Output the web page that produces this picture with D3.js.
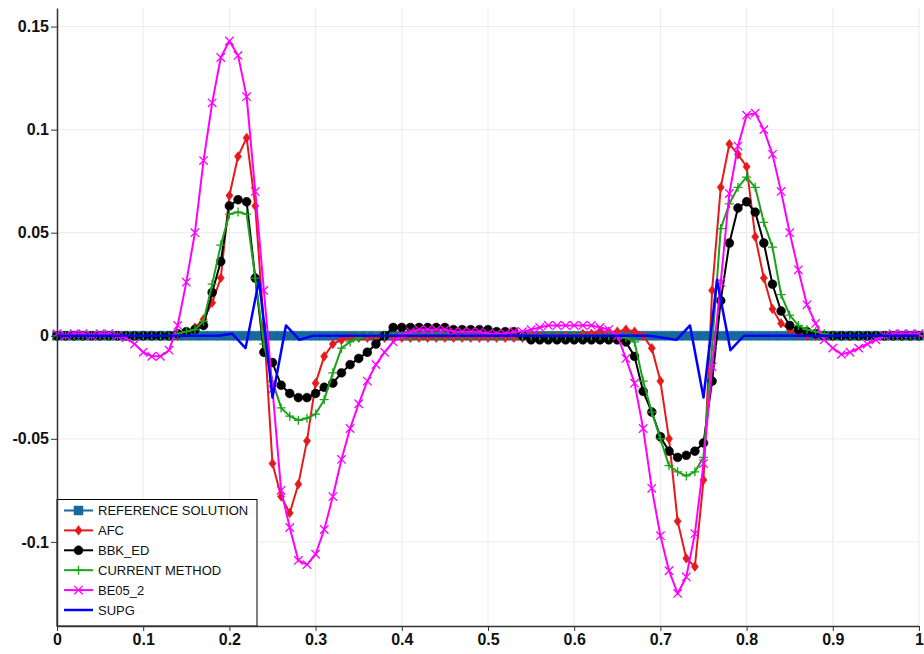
<!DOCTYPE html>
<html>
<head>
<meta charset="utf-8">
<script src="https://cdn.jsdelivr.net/npm/d3@7"></script>
<style>
  body { margin: 0; background: #fff; }
  svg { display: block; }
  .axis .tick text { font-family: "Liberation Sans", Arial, sans-serif; font-weight: bold; font-size: 16px; fill: #111; }
  .legend text { font-family: "Liberation Sans", Arial, sans-serif; font-size: 13px; fill: #111; }
</style>
</head>
<body>
<div id="chart"></div>
<script>
// Sample positions shared by the marked series
const xValues = [
  0.00, 0.01, 0.02, 0.03, 0.04, 0.05, 0.06, 0.07, 0.08, 0.09,
  0.10, 0.11, 0.12, 0.13, 0.14, 0.15, 0.16, 0.17, 0.18, 0.19,
  0.20, 0.21, 0.22, 0.23, 0.24, 0.25, 0.26, 0.27, 0.28, 0.29,
  0.30, 0.31, 0.32, 0.33, 0.34, 0.35, 0.36, 0.37, 0.38, 0.39,
  0.40, 0.41, 0.42, 0.43, 0.44, 0.45, 0.46, 0.47, 0.48, 0.49,
  0.50, 0.51, 0.52, 0.53, 0.54, 0.55, 0.56, 0.57, 0.58, 0.59,
  0.60, 0.61, 0.62, 0.63, 0.64, 0.65, 0.66, 0.67, 0.68, 0.69,
  0.70, 0.71, 0.72, 0.73, 0.74, 0.75, 0.76, 0.77, 0.78, 0.79,
  0.80, 0.81, 0.82, 0.83, 0.84, 0.85, 0.86, 0.87, 0.88, 0.89,
  0.90, 0.91, 0.92, 0.93, 0.94, 0.95, 0.96, 0.97, 0.98, 0.99,
  1.00
];

const referenceY = [
  0, 0, 0, 0, 0, 0, 0, 0, 0, 0,
  0, 0, 0, 0, 0, 0, 0, 0, 0, 0,
  0, 0, 0, 0, 0, 0, 0, 0, 0, 0,
  0, 0, 0, 0, 0, 0, 0, 0, 0, 0,
  0, 0, 0, 0, 0, 0, 0, 0, 0, 0,
  0, 0, 0, 0, 0, 0, 0, 0, 0, 0,
  0, 0, 0, 0, 0, 0, 0, 0, 0, 0,
  0, 0, 0, 0, 0, 0, 0, 0, 0, 0,
  0, 0, 0, 0, 0, 0, 0, 0, 0, 0,
  0, 0, 0, 0, 0, 0, 0, 0, 0, 0,
  0
];

const afcY = [
  0, 0, 0, 0, 0, 0, 0, 0, 0, 0,
  0, 0, 0, 0, 0, 0.001, 0.004, 0.008, 0.016, 0.028,
  0.068, 0.087, 0.096, 0.063, 0.005, -0.062, -0.078, -0.086, -0.072, -0.051,
  -0.023, -0.010, -0.004, -0.002, -0.001, -0.001, -0.001, -0.001, -0.001, -0.001,
  -0.001, -0.001, -0.001, -0.001, -0.001, -0.001, -0.001, -0.001, -0.001, -0.001,
  -0.001, -0.001, -0.001, -0.001, -0.001, 0, 0, 0, 0, 0,
  0, 0.001, 0.001, 0.002, 0.002, 0.002, 0.003, 0.002, 0, -0.006,
  -0.022, -0.050, -0.090, -0.108, -0.112, -0.070, 0.022, 0.072, 0.093, 0.088,
  0.082, 0.048, 0.028, 0.013, 0.006, 0.003, 0.001, 0, 0, 0,
  0, 0, 0, 0, 0, 0, 0, 0, 0, 0,
  0
];

const bbkY = [
  0, 0, 0, 0, 0, 0, 0, 0, 0, 0,
  0, 0, 0, 0, 0.001, 0.002, 0.003, 0.005, 0.021, 0.036,
  0.063, 0.066, 0.065, 0.028, -0.008, -0.013, -0.024, -0.028, -0.030, -0.030,
  -0.028, -0.025, -0.023, -0.018, -0.014, -0.011, -0.008, -0.004, 0, 0.004,
  0.004, 0.004, 0.004, 0.004, 0.004, 0.004, 0.003, 0.003, 0.003, 0.003,
  0.003, 0.002, 0.002, 0.002, 0, -0.002, -0.002, -0.002, -0.002, -0.002,
  -0.002, -0.002, -0.002, -0.002, -0.002, -0.002, -0.003, -0.010, -0.027, -0.037,
  -0.049, -0.056, -0.059, -0.058, -0.056, -0.052, -0.022, 0.017, 0.045, 0.062,
  0.065, 0.060, 0.045, 0.025, 0.012, 0.005, 0.003, 0.002, 0.001, 0,
  0, 0, 0, 0, 0, 0, 0, 0, 0, 0,
  0
];

const currentY = [
  0, 0, 0, 0, 0, 0, 0, 0, 0, 0,
  0, 0, 0, 0, 0.001, 0.002, 0.003, 0.007, 0.025, 0.044,
  0.059, 0.060, 0.059, 0.028, -0.004, -0.022, -0.035, -0.039, -0.041, -0.040,
  -0.038, -0.031, -0.018, -0.006, -0.003, -0.001, 0, 0, 0, 0,
  0, 0, 0, 0, 0, 0, 0, 0, 0, 0,
  0, 0, 0, 0, 0, 0, 0, 0, 0, 0,
  0, 0, 0, 0, 0, 0, -0.001, -0.003, -0.022, -0.037,
  -0.050, -0.063, -0.066, -0.068, -0.066, -0.059, -0.005, 0.052, 0.064, 0.072,
  0.077, 0.072, 0.055, 0.043, 0.020, 0.010, 0.005, 0.003, 0.002, 0.001,
  0, 0, 0, 0, 0, 0, 0, 0, 0, 0,
  0
];

const be05Y = [
  0.001, 0, 0.001, 0.001, 0, 0.001, 0.001, 0, -0.001, -0.004,
  -0.008, -0.010, -0.010, -0.007, 0.005, 0.026, 0.050, 0.085, 0.113, 0.135,
  0.143, 0.136, 0.116, 0.070, 0.022, -0.026, -0.075, -0.093, -0.109, -0.111,
  -0.106, -0.094, -0.078, -0.060, -0.045, -0.033, -0.022, -0.014, -0.008, -0.003,
  0, 0.002, 0.003, 0.003, 0.003, 0.003, 0.002, 0.002, 0.002, 0.002,
  0.001, 0.001, 0.001, 0.002, 0.002, 0.003, 0.004, 0.005, 0.005, 0.005,
  0.005, 0.005, 0.005, 0.004, 0.003, 0, -0.011, -0.023, -0.045, -0.074,
  -0.097, -0.114, -0.125, -0.117, -0.096, -0.062, -0.015, 0.026, 0.069, 0.092,
  0.107, 0.108, 0.100, 0.088, 0.070, 0.050, 0.032, 0.015, 0.006, -0.002,
  -0.006, -0.009, -0.008, -0.006, -0.004, -0.002, 0, 0.001, 0.001, 0.001,
  0.001
];

// SUPG has its own (coarser) node positions and no markers
const supgX = [0, 0.1875, 0.203125, 0.21875, 0.234375, 0.25, 0.265625, 0.28125, 0.296875,
  0.6875, 0.703125, 0.71875, 0.734375, 0.75, 0.765625, 0.78125, 0.796875, 1];
const supgY = [0, 0, 0.001, -0.006, 0.027, -0.030, 0.005, -0.002, 0,
  0, -0.001, -0.002, 0.005, -0.030, 0.027, -0.007, 0, 0];

const seriesNames = ["REFERENCE SOLUTION", "AFC", "BBK_ED", "CURRENT METHOD", "BE05_2", "SUPG"];

const xTicks = [0, 0.1, 0.2, 0.3, 0.4, 0.5, 0.6, 0.7, 0.8, 0.9, 1];
const xTickLabels = ["0", "0.1", "0.2", "0.3", "0.4", "0.5", "0.6", "0.7", "0.8", "0.9", "1"];
const yTicks = [-0.1, -0.05, 0, 0.05, 0.1, 0.15];
const yTickLabels = ["-0.1", "-0.05", "0", "0.05", "0.1", "0.15"];

const series = [
  { name: seriesNames[0], x: xValues, y: referenceY, color: "#17699c", marker: "square", width: 2 },
  { name: seriesNames[1], x: xValues, y: afcY, color: "#e41a1c", marker: "diamond", width: 2 },
  { name: seriesNames[2], x: xValues, y: bbkY, color: "#000000", marker: "circle", width: 2 },
  { name: seriesNames[3], x: xValues, y: currentY, color: "#1aa31a", marker: "plus", width: 2 },
  { name: seriesNames[4], x: xValues, y: be05Y, color: "#ff00ff", marker: "cross", width: 2 },
  { name: seriesNames[5], x: supgX, y: supgY, color: "#0000ff", marker: null, width: 2.5 }
];

const W = 924, H = 654;
const margin = { left: 57, right: 5, top: 8, bottom: 28 };

const svg = d3.select("#chart").append("svg")
  .attr("width", W)
  .attr("height", H);

const x = d3.scaleLinear().domain([0, 1]).range([margin.left, W - margin.right]);
const y = d3.scaleLinear().domain([-0.1408, 0.159]).range([H - margin.bottom, margin.top]);

// grid
svg.append("g").selectAll("line.vg")
  .data(xTicks.slice(1)).enter().append("line")
  .attr("x1", d => x(d)).attr("x2", d => x(d))
  .attr("y1", y.range()[1]).attr("y2", y.range()[0])
  .attr("stroke", "#ebebeb").attr("stroke-width", 1);
svg.append("g").selectAll("line.hg")
  .data(yTicks).enter().append("line")
  .attr("x1", x.range()[0]).attr("x2", x.range()[1])
  .attr("y1", d => y(d)).attr("y2", d => y(d))
  .attr("stroke", "#ebebeb").attr("stroke-width", 1);

// marker shapes
function markerPath(type) {
  switch (type) {
    case "square": return "M-4.5,-4.5H4.5V4.5H-4.5Z";
    case "diamond": return "M0,-4.8L3.6,0L0,4.8L-3.6,0Z";
    case "circle": return d3.symbol().type(d3.symbolCircle).size(62)();
    case "plus": return "M-4.5,0H4.5M0,-4.5V4.5";
    case "cross": return "M-4.2,-4.2L4.2,4.2M-4.2,4.2L4.2,-4.2";
  }
  return "";
}
const filled = { square: true, diamond: true, circle: true, plus: false, cross: false };

const line = d3.line().x(d => x(d[0])).y(d => y(d[1]));

series.forEach(s => {
  const pts = s.x.map((v, i) => [v, s.y[i]]);
  const g = svg.append("g");
  g.append("path")
    .datum(pts)
    .attr("d", line)
    .attr("fill", "none")
    .attr("stroke", s.color)
    .attr("stroke-width", s.width)
    .attr("stroke-linejoin", "round");
  if (s.marker) {
    g.selectAll("path.m")
      .data(pts).enter().append("path")
      .attr("class", "m")
      .attr("transform", d => `translate(${x(d[0])},${y(d[1])})`)
      .attr("d", markerPath(s.marker))
      .attr("fill", filled[s.marker] ? s.color : "none")
      .attr("stroke", s.color)
      .attr("stroke-width", filled[s.marker] ? 0.5 : 1.3);
  }
});

// legend
const legend = svg.append("g").attr("class", "legend");
legend.append("rect")
  .attr("x", margin.left).attr("y", 499.5)
  .attr("width", 200).attr("height", H - margin.bottom - 499.5)
  .attr("fill", "#fff").attr("stroke", "#000").attr("stroke-width", 1);
series.forEach((s, i) => {
  const ly = 510.5 + i * 19.9;
  legend.append("line")
    .attr("x1", 64).attr("x2", 93).attr("y1", ly).attr("y2", ly)
    .attr("stroke", s.color).attr("stroke-width", s.width);
  if (s.marker) {
    legend.append("path")
      .attr("transform", `translate(78.5,${ly})`)
      .attr("d", markerPath(s.marker))
      .attr("fill", filled[s.marker] ? s.color : "none")
      .attr("stroke", s.color)
      .attr("stroke-width", filled[s.marker] ? 0.5 : 1.3);
  }
  legend.append("text")
    .attr("x", 98).attr("y", ly).attr("dy", "0.36em")
    .text(s.name);
});

// axes
svg.append("g").attr("class", "axis")
  .attr("transform", `translate(0,${H - margin.bottom})`)
  .call(d3.axisBottom(x).tickValues(xTicks).tickFormat((d, i) => xTickLabels[i]).tickSize(5).tickSizeOuter(0).tickPadding(3));
svg.append("g").attr("class", "axis")
  .attr("transform", `translate(${margin.left},0)`)
  .call(d3.axisLeft(y).tickValues(yTicks).tickFormat((d, i) => yTickLabels[i]).tickSize(6).tickSizeOuter(0).tickPadding(2));
svg.selectAll(".axis path.domain").attr("stroke", "#333").attr("stroke-width", 1.5);
svg.selectAll(".axis .tick line").attr("stroke", "#333").attr("stroke-width", 1);
</script>
</body>
</html>
